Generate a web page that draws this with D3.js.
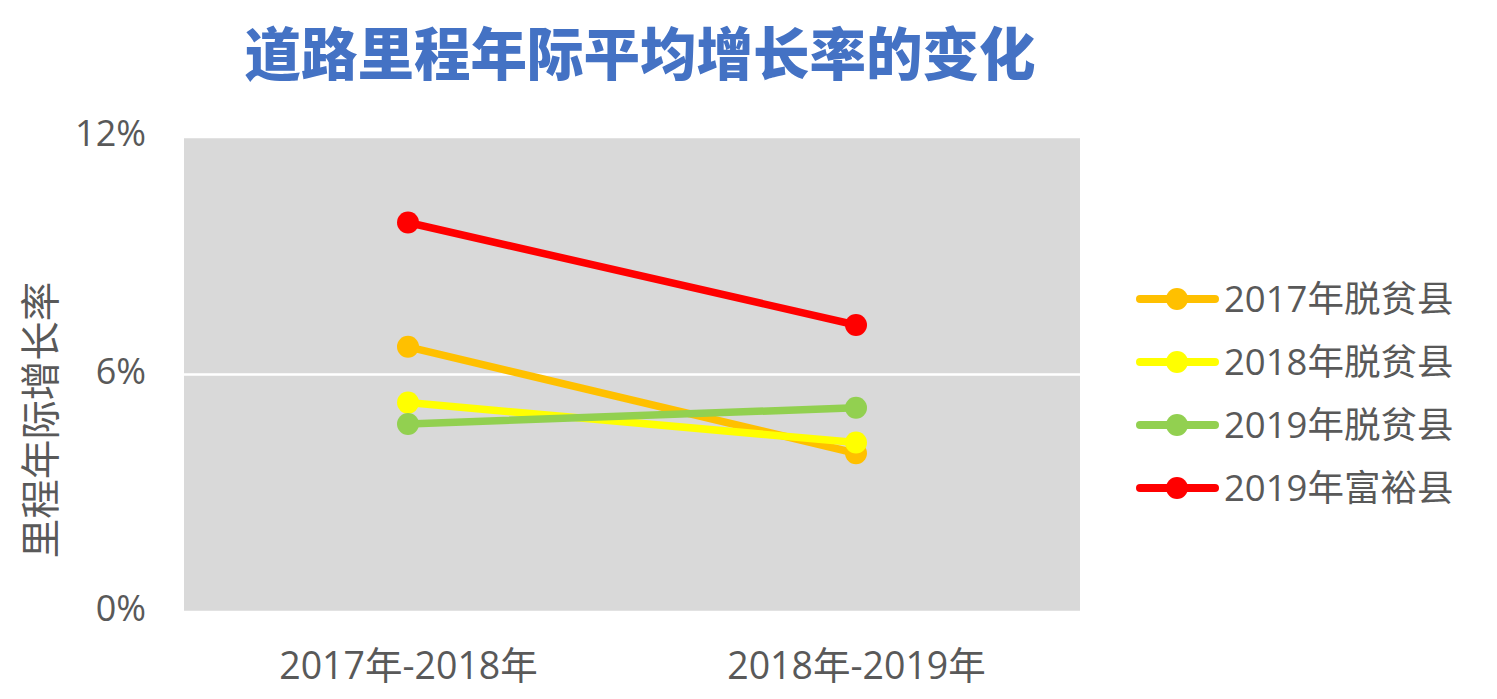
<!DOCTYPE html>
<html><head><meta charset="utf-8">
<script src="https://cdn.jsdelivr.net/npm/d3@7"></script>
<style>
html,body{margin:0;padding:0;background:#fff;}
svg text{font-family:"Open Sans","Noto Sans CJK SC",sans-serif;}
</style></head>
<body><svg id="c" width="1497" height="699"></svg>
<script>
const categories = ["2017年-2018年", "2018年-2019年"];
const seriesNames = ["2017年脱贫县", "2018年脱贫县", "2019年脱贫县", "2019年富裕县"];
const seriesColors = ["#FFC000", "#FFFF00", "#92D050", "#FF0000"];
const values2017 = [0.0670, 0.0401];
const values2018 = [0.0529, 0.0428];
const values2019 = [0.0475, 0.0516];
const valuesRich = [0.0984, 0.0725];
const yTicks = [0, 0.06, 0.12];
const title = "道路里程年际平均增长率的变化";
const yTitle = "里程年际增长率";

const seriesValues = [values2017, values2018, values2019, valuesRich];
const svg = d3.select("#c");
const plot = {left:184, right:1080, top:137, bottom:612};

const x = d3.scalePoint().domain(categories).range([plot.left, plot.right]).padding(0.5);
const y = d3.scaleLinear().domain([0, 0.12]).range([plot.bottom, plot.top]);

svg.append("rect").attr("x", plot.left).attr("y", plot.top)
  .attr("width", plot.right - plot.left).attr("height", plot.bottom - plot.top)
  .attr("fill", "#D9D9D9");

// gridlines
svg.append("g").selectAll("line").data(yTicks).join("line")
  .attr("x1", plot.left).attr("x2", plot.right)
  .attr("y1", d => y(d)).attr("y2", d => y(d))
  .attr("stroke", "#fff").attr("stroke-width", 2.5);

// y axis
const yAxis = d3.axisLeft(y).tickValues(yTicks).tickFormat(d3.format(".0%")).tickSize(0).tickPadding(38);
const gy = svg.append("g").attr("transform", `translate(${plot.left},-3)`).call(yAxis);
gy.select(".domain").remove();
gy.selectAll("text").attr("font-size", 36).attr("fill", "#595959");

// x axis
const xAxis = d3.axisBottom(x).tickSize(0).tickPadding(40);
const gx = svg.append("g").attr("transform", `translate(0,${plot.bottom})`).call(xAxis);
gx.select(".domain").remove();
gx.selectAll("text").attr("font-size", 37.5).attr("fill", "#595959");

// series
const line = d3.line().x((d,i) => x(categories[i])).y(d => y(d));
seriesValues.forEach((vals, si) => {
  const g = svg.append("g");
  g.append("path").datum(vals).attr("d", line)
    .attr("fill", "none").attr("stroke", seriesColors[si])
    .attr("stroke-width", 7.5).attr("stroke-linecap", "round");
  g.selectAll("circle").data(vals).join("circle")
    .attr("cx", (d,i) => x(categories[i])).attr("cy", d => y(d))
    .attr("r", 11).attr("fill", seriesColors[si]);
});

// title
svg.append("text").attr("x", 640).attr("y", 75).attr("text-anchor", "middle")
  .attr("font-size", 56.5).attr("font-weight", 900).attr("fill", "#4472C4")
  .style("font-family", "'Noto Sans CJK SC',sans-serif")
  .text(title);

// y title
svg.append("text").attr("transform", "translate(55,420) rotate(-90)")
  .attr("text-anchor", "middle").attr("font-size", 39.5).attr("fill", "#595959")
  .style("font-family", "'Noto Sans CJK SC',sans-serif")
  .text(yTitle);

// legend
const lg = svg.append("g");
seriesNames.forEach((name, i) => {
  const cy = 299 + i * 63;
  lg.append("line").attr("x1", 1140).attr("x2", 1215).attr("y1", cy).attr("y2", cy)
    .attr("stroke", seriesColors[i]).attr("stroke-width", 8).attr("stroke-linecap", "round");
  lg.append("circle").attr("cx", 1177).attr("cy", cy).attr("r", 11).attr("fill", seriesColors[i]);
  lg.append("text").attr("x", 1224).attr("y", cy).attr("dy", "0.35em")
    .attr("font-size", 36.5).attr("fill", "#595959").text(name);
});
</script></body></html>
